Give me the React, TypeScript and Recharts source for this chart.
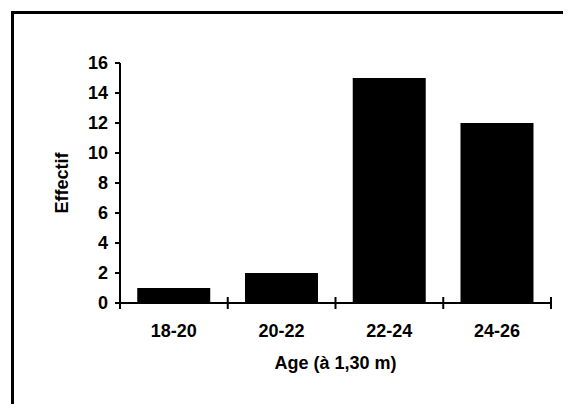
import { BarChart, Bar, XAxis, YAxis } from "recharts";

const ageClasses = ["18-20", "20-22", "22-24", "24-26"];
const effectifs = [1, 2, 15, 12];
const yTicks = [0, 2, 4, 6, 8, 10, 12, 14, 16];

const CHART_W = 555;
const CHART_H = 396;
const MARGIN = { top: 55, right: 12, bottom: 0, left: 0 };
const Y_AXIS_W = 112;
const X_AXIS_H = 101;
const FONT = "'Liberation Sans', Arial, Helvetica, sans-serif";
const FONT_SIZE = 18;

const data = ageClasses.map((age, i) => ({ age, effectif: effectifs[i] }));

// width of one category band, used to put the tick marks on the boundaries
const band = (CHART_W - MARGIN.left - MARGIN.right - Y_AXIS_W) / ageClasses.length;

const AgeTick = (props: any) => {
  const { x, y, payload, index } = props;
  const last = index === ageClasses.length - 1;
  return (
    <g>
      <line x1={x - band / 2} y1={y - 6} x2={x - band / 2} y2={y + 6} stroke="#000" strokeWidth={2} />
      {last && (
        <line x1={x + band / 2} y1={y - 6} x2={x + band / 2} y2={y + 6} stroke="#000" strokeWidth={2} />
      )}
      <text
        x={x}
        y={y + 34}
        textAnchor="middle"
        fill="#000"
        fontSize={FONT_SIZE}
        fontWeight="bold"
        fontFamily={FONT}
      >
        {payload.value}
      </text>
    </g>
  );
};

export default function App() {
  return (
    <div
      style={{
        position: "relative",
        width: CHART_W,
        height: CHART_H,
        overflow: "hidden",
        background: "#fff",
      }}
    >
      {/* scanned frame: only top and left edges are visible */}
      <div
        style={{
          position: "absolute",
          left: 3,
          top: 3,
          width: 800,
          height: 800,
          border: "3px solid #000",
        }}
      />
      <div style={{ position: "absolute", left: 0, top: 0 }}>
        <BarChart
          width={CHART_W}
          height={CHART_H}
          data={data}
          margin={MARGIN}
          barCategoryGap="16%"
        >
          <XAxis
            dataKey="age"
            height={X_AXIS_H}
            axisLine={{ stroke: "#000", strokeWidth: 2 }}
            tickLine={false}
            tickSize={0}
            tickMargin={0}
            interval={0}
            tick={<AgeTick />}
            label={{
              content: ({ viewBox }: any) => (
                <text
                  x={viewBox.x + viewBox.width / 2}
                  y={viewBox.y + 66}
                  textAnchor="middle"
                  fill="#000"
                  fontSize={FONT_SIZE}
                  fontWeight="bold"
                  fontFamily={FONT}
                >
                  Age (à 1,30 m)
                </text>
              ),
            }}
          />
          <YAxis
            width={Y_AXIS_W}
            domain={[0, 16]}
            ticks={yTicks}
            interval={0}
            axisLine={{ stroke: "#000", strokeWidth: 2 }}
            tickLine={{ stroke: "#000", strokeWidth: 2 }}
            tickSize={5}
            tickMargin={7}
            tick={{ fill: "#000", fontSize: FONT_SIZE, fontWeight: "bold", fontFamily: FONT }}
            label={{
              content: ({ viewBox }: any) => {
                const cx = viewBox.x + 54;
                const cy = viewBox.y + viewBox.height / 2;
                return (
                  <text
                    x={cx}
                    y={cy}
                    transform={`rotate(-90 ${cx} ${cy})`}
                    textAnchor="middle"
                    dominantBaseline="central"
                    fill="#000"
                    fontSize={FONT_SIZE}
                    fontWeight="bold"
                    fontFamily={FONT}
                  >
                    Effectif
                  </text>
                );
              },
            }}
          />
          <Bar dataKey="effectif" fill="#000" isAnimationActive={false} />
        </BarChart>
      </div>
    </div>
  );
}
